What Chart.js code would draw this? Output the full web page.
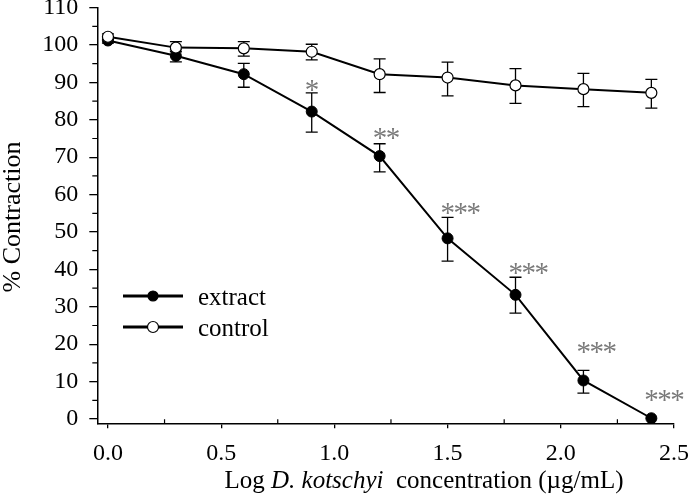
<!DOCTYPE html>
<html>
<head>
<meta charset="utf-8">
<script src="https://cdn.jsdelivr.net/npm/chart.js@4.4.0/dist/chart.umd.min.js"></script>
<style>
html,body{margin:0;padding:0;background:#fff;}
#wrap{width:689px;height:496px;position:relative;}
</style>
</head>
<body>
<div id="wrap"><canvas id="c"></canvas></div>
<script>
// ---- data ----
const xValues = [0, 0.3, 0.6, 0.9, 1.2, 1.5, 1.8, 2.1, 2.4];
const extractMean = [101.2, 97.1, 92.2, 82.2, 70.3, 48.3, 33.2, 10.3, 0.2];
const extractHigh = [101.9, 98.7, 95.1, 87.2, 73.6, 53.9, 37.9, 13.0, 0.2];
const extractLow  = [100.5, 95.5, 88.7, 76.7, 66.1, 42.2, 28.3, 6.9, 0.2];
const controlMean = [102.2, 99.3, 99.1, 98.2, 92.2, 91.3, 89.2, 88.2, 87.2];
const controlHigh = [103.0, 100.9, 100.9, 100.2, 96.3, 95.4, 93.7, 92.4, 90.8];
const controlLow  = [101.4, 98.2, 97.0, 96.0, 87.3, 86.4, 84.4, 83.5, 83.1];
const sigLabels = ['', '', '', '*', '**', '***', '***', '***', '***'];
const sigLabelY = [null, null, null, 89.3, 76.4, 56.3, 40.4, 19.2, 6.4];
const seriesNames = ['extract', 'control'];
const xTicks = [0, 0.5, 1.0, 1.5, 2.0, 2.5];
const xMinorTicks = [0.25, 0.75, 1.25, 1.75, 2.25];
const yTicks = [0, 10, 20, 30, 40, 50, 60, 70, 80, 90, 100, 110];
const yMinorTicks = [5, 15, 25, 35, 45, 55, 65, 75, 85, 95, 105];
const yTitle = '% Contraction';
const xTitleParts = [['Log ', false], ['D. kotschyi', true], ['  concentration (\u00b5g/mL)', false]];

const FONT = '"Liberation Serif", "Times New Roman", serif';

const toPts = (xs, ys) => xs.map((x, i) => ({x: x, y: ys[i]}));

const customPlugin = {
  id: 'custom',
  beforeDatasetsDraw(chart) {
    const ctx = chart.ctx, xs = chart.scales.x, ys = chart.scales.y;
    ctx.save();
    ctx.strokeStyle = '#000';
    ctx.lineWidth = 1.3;
    const bars = [[extractHigh, extractLow], [controlHigh, controlLow]];
    bars.forEach(([hi, lo]) => {
      xValues.forEach((xv, i) => {
        if (hi[i] - lo[i] < 0.5) return;
        const px = xs.getPixelForValue(xv);
        const pt = ys.getPixelForValue(hi[i]);
        const pb = ys.getPixelForValue(lo[i]);
        ctx.beginPath();
        ctx.moveTo(px, pt); ctx.lineTo(px, pb);
        ctx.moveTo(px - 6, pt); ctx.lineTo(px + 6, pt);
        ctx.moveTo(px - 6, pb); ctx.lineTo(px + 6, pb);
        ctx.stroke();
      });
    });
    ctx.restore();
  },
  afterDraw(chart) {
    const ctx = chart.ctx, xs = chart.scales.x, ys = chart.scales.y, ca = chart.chartArea;
    ctx.save();
    // significance stars
    ctx.fillStyle = '#7a7a7a';
    ctx.font = '29px ' + FONT;
    ctx.textAlign = 'left';
    ctx.textBaseline = 'alphabetic';
    try { ctx.letterSpacing = '-1.5px'; } catch (e) {}
    xValues.forEach((xv, i) => {
      if (!sigLabels[i]) return;
      const px = xs.getPixelForValue(xv);
      const py = ys.getPixelForValue(sigLabelY[i]);
      ctx.fillText(sigLabels[i], px - 7, py + 14);
    });
    try { ctx.letterSpacing = '0px'; } catch (e) {}
    // minor ticks
    ctx.strokeStyle = '#000';
    ctx.lineWidth = 1.2;
    ctx.beginPath();
    xMinorTicks.forEach(v => {
      const px = xs.getPixelForValue(v);
      ctx.moveTo(px, ca.bottom); ctx.lineTo(px, ca.bottom - 4);
    });
    yMinorTicks.forEach(v => {
      const py = ys.getPixelForValue(v);
      ctx.moveTo(ca.left, py); ctx.lineTo(ca.left - 5, py);
    });
    ctx.stroke();
    // legend
    const legendRows = [[296, '#000'], [327, '#fff']];
    legendRows.forEach(([ly, fill], i) => {
      ctx.strokeStyle = '#000';
      ctx.lineWidth = 3;
      ctx.beginPath();
      ctx.moveTo(123, ly); ctx.lineTo(183, ly);
      ctx.stroke();
      ctx.beginPath();
      ctx.arc(153, ly, i === 0 ? 5 : 5.5, 0, Math.PI * 2);
      ctx.fillStyle = fill;
      ctx.fill();
      ctx.lineWidth = 1.2;
      ctx.stroke();
      ctx.fillStyle = '#000';
      ctx.font = '25px ' + FONT;
      ctx.textAlign = 'left';
      ctx.textBaseline = 'alphabetic';
      ctx.fillText(seriesNames[i], 198, ly + 9);
    });
    // y title
    ctx.save();
    ctx.translate(13, 217);
    ctx.rotate(-Math.PI / 2);
    ctx.font = '26px ' + FONT;
    ctx.textAlign = 'center';
    ctx.textBaseline = 'middle';
    ctx.fillStyle = '#000';
    ctx.fillText(yTitle, 0, 0);
    ctx.restore();
    // x title
    let total = 0;
    const widths = xTitleParts.map(([t, it]) => {
      ctx.font = (it ? 'italic ' : '') + '25px ' + FONT;
      const w = ctx.measureText(t).width; total += w; return w;
    });
    let x0 = 424 - total / 2;
    ctx.fillStyle = '#000';
    ctx.textAlign = 'left';
    ctx.textBaseline = 'alphabetic';
    xTitleParts.forEach(([t, it], i) => {
      ctx.font = (it ? 'italic ' : '') + '25px ' + FONT;
      ctx.fillText(t, x0, 488);
      x0 += widths[i];
    });
    ctx.restore();
  }
};

new Chart(document.getElementById('c'), {
  type: 'line',
  data: {
    datasets: [
      {
        label: seriesNames[1],
        data: toPts(xValues, controlMean),
        borderColor: '#000', borderWidth: 2,
        pointRadius: 5.5, pointBackgroundColor: '#fff', pointBorderColor: '#000', pointBorderWidth: 1.2,
        tension: 0, order: 0
      },
      {
        label: seriesNames[0],
        data: toPts(xValues, extractMean),
        borderColor: '#000', borderWidth: 2,
        pointRadius: 5.5, pointBackgroundColor: '#000', pointBorderColor: '#000', pointBorderWidth: 1,
        tension: 0, order: 1
      }
    ]
  },
  options: {
    responsive: true,
    maintainAspectRatio: false,
    animation: false,
    layout: { padding: { top: 7.6, right: 15, left: 0, bottom: 0 } },
    plugins: { legend: { display: false }, tooltip: { enabled: false } },
    scales: {
      x: {
        type: 'linear', min: -0.047, max: 2.5,
        afterBuildTicks: s => { s.ticks = xTicks.map(v => ({value: v})); },
        afterFit: s => { s.height = 72.7; s.paddingLeft = 0; s.paddingRight = 0; },
        ticks: { callback: v => Number(v).toFixed(1), color: '#000', font: { family: FONT, size: 24 }, padding: 11, maxRotation: 0 },
        grid: { display: true, drawOnChartArea: false, drawTicks: true, tickLength: 5, color: '#000', lineWidth: 1.3 },
        border: { display: true, color: '#000', width: 1.5 }
      },
      y: {
        type: 'linear', min: -1.15, max: 110,
        afterBuildTicks: s => { s.ticks = yTicks.map(v => ({value: v})); },
        afterFit: s => { s.width = 97.3; s.paddingTop = 0; s.paddingBottom = 0; },
        ticks: { callback: v => String(v), color: '#000', font: { family: FONT, size: 24 }, padding: 11 },
        grid: { display: true, drawOnChartArea: false, drawTicks: true, tickLength: 8, color: '#000', lineWidth: 1.3 },
        border: { display: true, color: '#000', width: 1.5 }
      }
    }
  },
  plugins: [customPlugin]
});
</script>
</body>
</html>
